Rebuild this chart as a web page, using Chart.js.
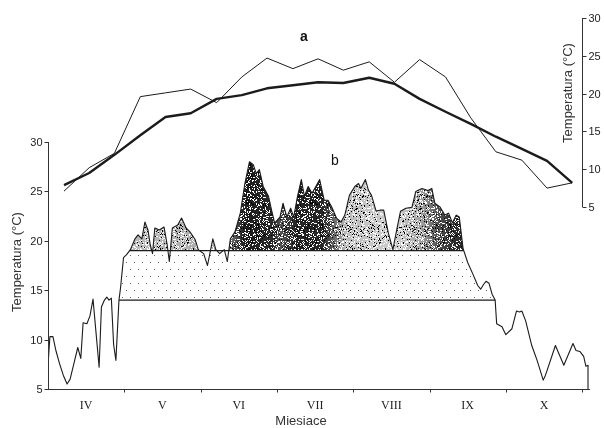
<!DOCTYPE html>
<html><head><meta charset="utf-8">
<script src="https://cdn.jsdelivr.net/npm/chart.js@4.4.1/dist/chart.umd.min.js"></script>
<style>html,body{margin:0;padding:0;background:#fff}#wrap{width:604px;height:428px}</style>
</head><body><div id="wrap"><canvas id="c" width="604" height="428"></canvas></div>
<script>
// ---------- data ----------
const months = ['IV','V','VI','VII','VIII','IX','X'];
const yTicks = [5,10,15,20,25,30];
// (a) ten-day means, position in months from 1 April
const decadePos = [0.21,0.54,0.87,1.21,1.54,1.87,2.21,2.54,2.87,3.21,3.54,3.87,4.21,4.54,4.87,5.21,5.54,5.87,6.21,6.54,6.87];
const seriesThin = [7.1,10.2,12.1,19.6,20.1,20.6,18.8,22.2,24.7,23.3,24.6,23.1,24.2,21.5,24.5,22.2,16.8,12.3,11.2,7.5,8.2];
const seriesThick = [7.9,9.5,11.9,14.5,16.9,17.4,19.3,19.8,20.7,21.1,21.5,21.4,22.1,21.3,19.3,17.6,16.0,14.3,12.7,11.1,8.2];
// (b) daily temperature, position in months from 1 April
const dayPos = [0,0.005,0.025,0.065,0.10,0.15,0.20,0.25,0.29,0.34,0.39,0.43,0.46,0.51,0.55,0.59,0.67,0.70,0.74,0.77,0.80,0.83,0.86,0.89,0.93,0.95,0.99,1.03,1.08,
1.14,1.18,1.23,1.27,1.31,1.34,1.37,1.40,1.46,1.52,1.56,1.59,1.63,1.70,1.75,1.81,1.86,1.93,1.97,2.04,2.09,2.16,2.20,2.25,2.31,2.35,2.39,2.45,
2.52,2.58,2.64,2.69,2.73,2.77,2.82,2.89,2.93,2.97,3.04,3.08,3.13,3.18,3.22,3.27,3.32,3.36,3.41,3.46,3.51,3.56,3.62,3.67,3.72,3.78,3.84,3.89,
3.95,4.02,4.07,4.10,4.16,4.20,4.24,4.30,4.35,4.40,4.46,4.52,4.57,4.62,4.69,4.77,4.82,4.90,4.98,5.03,5.07,5.14,5.20,5.25,5.30,5.35,5.39,5.44,
5.50,5.57,5.63,5.67,5.71,5.74,5.78,5.82,5.86,5.88,5.95,6.00,6.08,6.14,6.18,6.21,6.26,6.34,6.41,6.49,6.52,6.65,6.76,6.88,6.92,6.97,7.02,7.05,7.077,7.077];
const dailyTemp = [5,8.0,10.3,10.3,9.0,7.6,6.4,5.5,6.0,7.6,9.2,8.1,11.7,11.6,12.4,14.1,7.2,13.3,14.0,14.3,14.0,14.2,9.5,7.9,14.0,15.2,18.3,18.6,19.1,
20.2,20.6,20.2,21.9,21.1,19.6,18.7,21.3,21.1,21.4,19.7,17.9,21.3,21.6,22.3,21.3,20.9,20.1,19.1,18.7,17.5,20.2,19.1,18.7,19.1,17.9,20.2,20.9,
22.8,25.8,28.0,27.7,26.8,27.2,25.5,24.5,23.1,21.8,22.4,23.8,22.4,23.3,22.4,24.5,26.2,24.5,25.5,24.8,25.5,26.2,24.1,24.1,23.4,22.3,21.9,22.6,
24.6,25.5,25.8,25.3,26.2,25.1,24.6,23.0,23.1,23.1,20.8,19.1,21.1,23.0,23.3,23.4,25.0,25.3,25.1,25.3,23.8,23.4,22.6,22.8,21.8,22.6,22.4,19.2,
17.8,16.6,15.5,15.1,15.6,15.9,15.7,14.6,14.0,11.6,11.3,10.5,11.1,12.9,12.8,12.9,11.9,9.4,7.9,5.9,6.4,9.4,7.4,9.6,8.9,8.8,8.3,7.3,7.4,5];
const thresholdLow = 14, thresholdHigh = 19;

// ---------- derived point sets ----------
function crossPts(pts, t){
  const out=[];
  for(let i=0;i<pts.length;i++){
    if(i>0){const a=pts[i-1], b=pts[i];
      if((a.y-t)*(b.y-t)<0){const f=(t-a.y)/(b.y-a.y); out.push({x:a.x+f*(b.x-a.x), y:t});}}
    out.push({x:pts[i].x, y:pts[i].y});
  }
  return out;
}
const curve = dayPos.map((x,i)=>({x, y:dailyTemp[i]}));
const c19 = crossPts(curve, thresholdHigh);
const upper = c19.map(p=>({x:p.x, y:Math.max(p.y, thresholdHigh)}));
const above19 = c19.filter(p=>p.y>thresholdHigh);
const hiStart = c19[c19.indexOf(above19[0])-1].x;
const hiEnd = c19[c19.indexOf(above19[above19.length-1])+1].x;
const c14 = crossPts(curve, thresholdLow);
let best=null, run=[];
const span=r=>r[r.length-1].x-r[0].x;
c14.forEach(p=>{ if(p.y>=thresholdLow-1e-9){run.push(p);} else { if(run.length&&(!best||span(run)>span(best))) best=run; run=[]; } });
if(run.length&&(!best||span(run)>span(best))) best=run;
const loStart = best[0].x, loEnd = best[best.length-1].x;
const middle = crossPts(best, thresholdHigh).map(p=>({x:p.x, y:Math.min(p.y, thresholdHigh)}));

// ---------- styles ----------
const shadeStops = [[1.0,'#bdbdbd'],[2.3,'#a8a8a8'],[2.45,'#555'],[2.55,'#2a2a2a'],[2.62,'#1c1c1c'],[2.95,'#2c2c2c'],[3.05,'#555'],[3.25,'#242424'],[3.6,'#282828'],[3.75,'#666'],[3.9,'#bdbdbd'],[4.45,'#cacaca'],[4.6,'#cccccc'],[4.9,'#a0a0a0'],[5.1,'#555'],[5.3,'#303030'],[5.45,'#2c2c2c']];
function hash(x,y){let h=(Math.imul(x,374761393)+Math.imul(y,668265263))>>>0;h=Math.imul(h^(h>>>13),1274126177)>>>0;return (h^(h>>>16))>>>0;}
function makeSpeckle(){
  const c=document.createElement('canvas');c.width=c.height=64;const g=c.getContext('2d');
  const img=g.createImageData(64,64);
  for(let y=0;y<64;y++)for(let x=0;x<64;x++){const r=hash(x,y)%100;const i=(y*64+x)*4;
    if(r<22){img.data[i]=img.data[i+1]=img.data[i+2]=255;img.data[i+3]=255;}
    else if(r>89){img.data[i+3]=255;}}
  g.putImageData(img,0,0);return g.createPattern(c,'repeat');
}
function makeDots(){
  const c=document.createElement('canvas');c.width=8;c.height=14;const g=c.getContext('2d');
  g.fillStyle='#fff';g.fillRect(0,0,8,14);g.fillStyle='#666';g.fillRect(2,3,1,1);g.fillRect(6,10,1,1);
  return g.createPattern(c,'repeat');
}
const speckle = makeSpeckle(), dots = makeDots();
function shade(ctx){
  const ch=ctx.chart, a=ch.chartArea; if(!a) return '#555';
  const xs=ch.scales.x, g=ch.ctx.createLinearGradient(a.left,0,a.right,0);
  shadeStops.forEach(([m,c])=>{const p=(xs.getPixelForValue(m)-a.left)/(a.right-a.left);g.addColorStop(Math.min(1,Math.max(0,p)),c);});
  return g;
}

const INK='#1b1b1b';
const axesPlugin = {
  id:'axes',
  afterDraw(chart){
    const {ctx, scales:{x, y, y2}} = chart;
    ctx.save();
    ctx.strokeStyle='#333'; ctx.lineWidth=1; ctx.fillStyle='#222';
    const yb=Math.round(y.getPixelForValue(5))+0.5;
    ctx.beginPath(); ctx.moveTo(x.getPixelForValue(0),yb); ctx.lineTo(x.right+1,yb); ctx.stroke();
    for(let k=1;k<=months.length;k++){const px=Math.round(x.getPixelForValue(k))+0.5;ctx.beginPath();ctx.moveTo(px,yb);ctx.lineTo(px,yb+3);ctx.stroke();}
    ctx.font='12px "Liberation Serif", serif'; ctx.textAlign='center'; ctx.textBaseline='middle';
    months.forEach((m,k)=>ctx.fillText(m, x.getPixelForValue(k+0.5), 406));
    ctx.font='13px "Liberation Sans", Arial, sans-serif'; ctx.fillStyle='#333';
    ctx.fillText('Miesiace', 301, 421);
    const lx=Math.round(x.getPixelForValue(0))+0.5;
    ctx.beginPath(); ctx.moveTo(lx,y.getPixelForValue(30)); ctx.lineTo(lx,yb); ctx.stroke();
    ctx.font='11px "Liberation Sans", Arial, sans-serif'; ctx.textAlign='right'; ctx.fillStyle='#222';
    yTicks.forEach(v=>{const py=Math.round(y.getPixelForValue(v))+0.5;ctx.beginPath();ctx.moveTo(lx-4,py);ctx.lineTo(lx,py);ctx.stroke();ctx.fillText(String(v),lx-6,py);});
    const rx=Math.round(x.getPixelForValue(7.0))+0.5;
    ctx.beginPath(); ctx.moveTo(rx,y2.getPixelForValue(30)); ctx.lineTo(rx,y2.getPixelForValue(5)); ctx.stroke();
    ctx.textAlign='left';
    yTicks.forEach(v=>{const py=Math.round(y2.getPixelForValue(v))+0.5;ctx.beginPath();ctx.moveTo(rx,py);ctx.lineTo(rx+4,py);ctx.stroke();ctx.fillText(String(v),rx+6,py);});
    ctx.font='13px "Liberation Sans", Arial, sans-serif'; ctx.fillStyle='#333'; ctx.textAlign='center';
    ctx.save(); ctx.translate(17,262); ctx.rotate(-Math.PI/2); ctx.fillText('Temperatura (°C)',0,0); ctx.restore();
    ctx.save(); ctx.translate(568,93); ctx.rotate(-Math.PI/2); ctx.fillText('Temperatura (°C)',0,0); ctx.restore();
    ctx.fillStyle='#111';
    ctx.font='bold 14px "Liberation Sans", Arial, sans-serif'; ctx.fillText('a',304,37);
    ctx.font='14px "Liberation Sans", Arial, sans-serif'; ctx.fillText('b',335,161);
    ctx.restore();
  }
};

new Chart(document.getElementById('c'), {
  type:'line',
  data:{datasets:[
    {label:'a-thin', data:decadePos.map((x,i)=>({x,y:seriesThin[i]})), yAxisID:'y2', borderColor:INK, borderWidth:1, pointRadius:0, fill:false, order:0},
    {label:'a-thick', data:decadePos.map((x,i)=>({x,y:seriesThick[i]})), yAxisID:'y2', borderColor:INK, borderWidth:2.4, pointRadius:0, fill:false, order:0},
    {label:'b', data:curve, yAxisID:'y', borderColor:INK, borderWidth:1.1, pointRadius:0, fill:false, order:1},
    {label:'t19', data:[{x:hiStart,y:thresholdHigh},{x:hiEnd,y:thresholdHigh}], yAxisID:'y', borderColor:INK, borderWidth:1.2, pointRadius:0, fill:false, order:2},
    {label:'t14', data:[{x:loStart,y:thresholdLow},{x:loEnd,y:thresholdLow}], yAxisID:'y', borderColor:INK, borderWidth:1.2, pointRadius:0, fill:false, order:2},
    {label:'speckle', data:upper, yAxisID:'y', borderWidth:0, borderColor:'rgba(0,0,0,0)', backgroundColor:speckle, pointRadius:0, fill:{value:thresholdHigh}, order:3},
    {label:'shade', data:upper, yAxisID:'y', borderWidth:0, borderColor:'rgba(0,0,0,0)', backgroundColor:shade, pointRadius:0, fill:{value:thresholdHigh}, order:4},
    {label:'dots', data:middle, yAxisID:'y', borderWidth:0, borderColor:'rgba(0,0,0,0)', backgroundColor:dots, pointRadius:0, fill:{value:thresholdLow}, order:5}
  ]},
  options:{
    responsive:false, animation:false,
    layout:{padding:{left:48,right:15,top:18,bottom:39}},
    elements:{line:{tension:0, borderJoinStyle:'round'}},
    plugins:{legend:{display:false}, tooltip:{enabled:false}},
    scales:{
      x:{type:'linear', min:0, max:7.09, display:false},
      y:{type:'linear', min:5, max:42.55, display:false},
      y2:{type:'linear', min:-19.07, max:30, display:false}
    }
  },
  plugins:[axesPlugin]
});
</script></body></html>
